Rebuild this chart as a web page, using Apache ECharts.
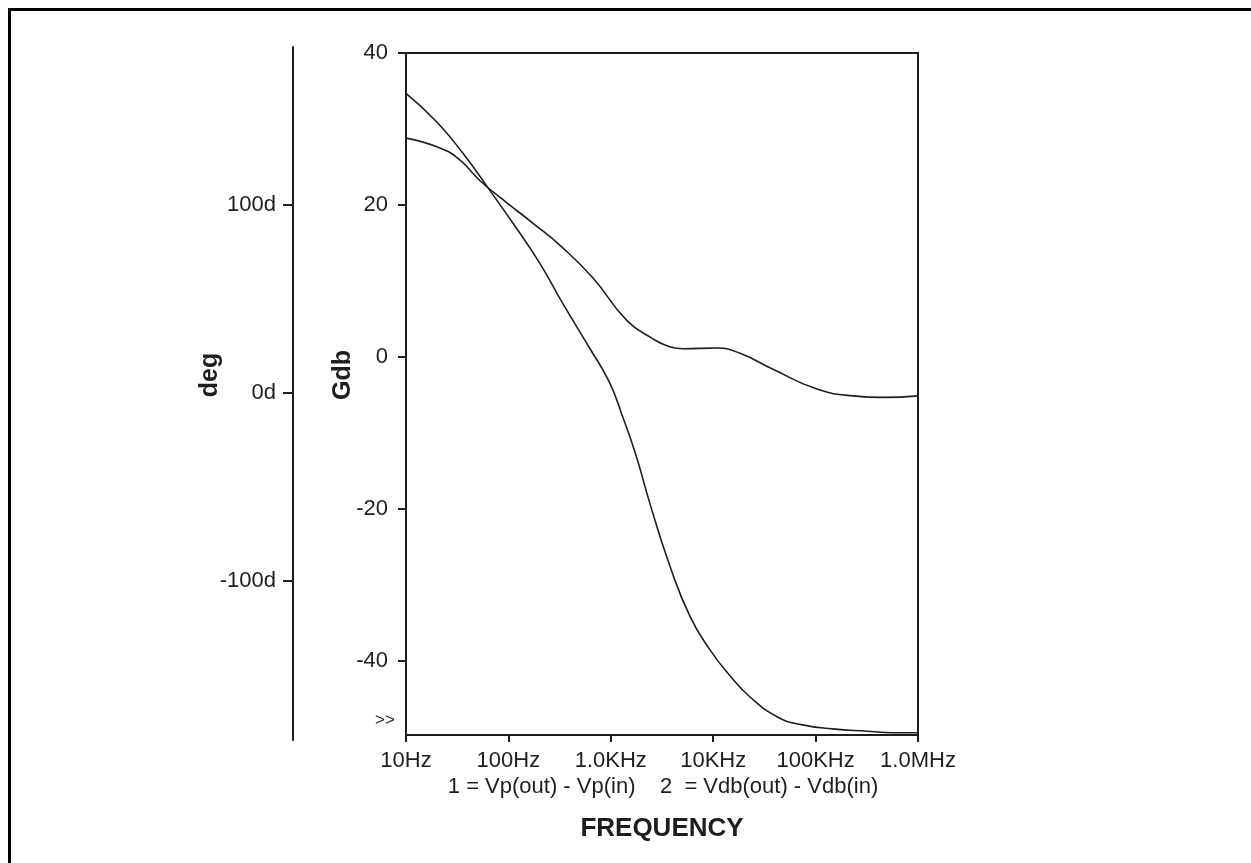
<!DOCTYPE html>
<html>
<head>
<meta charset="utf-8">
<script src="https://cdn.jsdelivr.net/npm/echarts@6/dist/echarts.min.js"></script>
<style>
  html, body { margin: 0; padding: 0; background: #fff; }
  #chart { width: 1251px; height: 863px; }
</style>
</head>
<body>
<div id="chart"></div>
<script>
// frequency tick labels (log axis, 10Hz .. 1MHz)
const freqTicks = [10, 100, 1000, 10000, 100000, 1000000]
const freqLabels = ['10Hz', '100Hz', '1.0KHz', '10KHz', '100KHz', '1.0MHz']
const gdbTicks = [-40, -20, 0, 20, 40]
const degTicks = [-100, 0, 100]

// curve 1 (flattens near -5 dB)
const curve1Freq = [10, 21.5, 33.7, 52.8, 96.9, 174, 319, 670, 1440, 2583, 3539, 5073, 10890, 18270, 38370, 103200, 231900, 455000, 1000000]
const curve1Val = [28.8, 27.5, 25.9, 23.2, 20.3, 17.6, 14.7, 10.4, 4.8, 2.4, 1.5, 1.1, 1.2, 0.5, -1.6, -4.2, -5.1, -5.3, -5.1]

// curve 2 (falls to about -49 dB)
const curve2Freq = [10, 20.1, 36.0, 66.1, 110.9, 203.5, 341.5, 626.6, 960, 1287, 1762, 2415, 3786, 5935, 9307, 14590, 22880, 41980, 70420, 147900, 317800, 570100, 1000000]
const curve2Val = [34.7, 30.9, 26.8, 21.9, 17.6, 12.3, 7.0, 1.1, -3.2, -7.6, -12.9, -19.3, -27.5, -34.1, -38.5, -41.9, -44.7, -47.3, -48.3, -48.9, -49.2, -49.4, -49.4]

const ink = '#1e1e1e'
const font = 'Liberation Sans, Arial, Helvetica, sans-serif'

const chart = echarts.init(document.getElementById('chart'))

const option = {
  backgroundColor: '#fff',
  animation: false,
  textStyle: { fontFamily: font, color: ink },
  grid: [
    { left: 406, right: 333, top: 53, bottom: 128, show: true, borderColor: ink, borderWidth: 2 },
    { left: 293, width: 1, top: 47, bottom: 123 }
  ],
  xAxis: [
    {
      gridIndex: 0,
      type: 'log',
      logBase: 10,
      min: 10,
      max: 1000000,
      axisLine: { onZero: false, lineStyle: { color: ink, width: 2 } },
      axisTick: { length: 7, lineStyle: { color: ink, width: 2 }, customValues: freqTicks },
      minorTick: { show: false },
      splitLine: { show: false },
      axisLabel: {
        customValues: freqTicks,
        color: ink,
        fontSize: 22,
        margin: 15,
        fontFamily: font,
        formatter: v => freqLabels[Math.round(Math.log10(v)) - 1]
      }
    },
    { gridIndex: 1, type: 'value', show: false }
  ],
  yAxis: [
    {
      gridIndex: 0,
      type: 'value',
      min: -49.7,
      max: 40,
      axisLine: { show: true, onZero: false, lineStyle: { color: ink, width: 2 } },
      axisTick: { show: true, length: 8, lineStyle: { color: ink, width: 2 }, customValues: gdbTicks },
      splitLine: { show: false },
      axisLabel: { customValues: gdbTicks, color: ink, fontSize: 22, margin: 18, fontFamily: font }
    },
    {
      gridIndex: 1,
      type: 'value',
      min: -184.6,
      max: 184,
      axisLine: { show: true, onZero: false, lineStyle: { color: ink, width: 2 } },
      axisTick: { show: true, length: 10, lineStyle: { color: ink, width: 2 }, customValues: degTicks },
      splitLine: { show: false },
      axisLabel: { customValues: degTicks, color: ink, fontSize: 22, margin: 17, fontFamily: font, formatter: v => v + 'd' }
    }
  ],
  graphic: [
    { type: 'rect', left: 7, top: 7, shape: { x: 0, y: 0, width: 1300, height: 900 }, style: { fill: null, stroke: '#000', lineWidth: 3 }, silent: true },
    { type: 'text', x: 210, y: 375, rotation: Math.PI / 2, style: { text: 'deg', font: 'bold 25px ' + font, fill: ink, align: 'center', verticalAlign: 'middle' } },
    { type: 'text', x: 343, y: 375, rotation: Math.PI / 2, style: { text: 'Gdb', font: 'bold 25px ' + font, fill: ink, align: 'center', verticalAlign: 'middle' } },
    { type: 'text', x: 385, y: 720, style: { text: '>>', font: '17px ' + font, fill: ink, align: 'center', verticalAlign: 'middle' } },
    { type: 'text', x: 663, y: 787, style: { text: '1 = Vp(out) - Vp(in)    2  = Vdb(out) - Vdb(in)', font: '22px ' + font, fill: ink, align: 'center', verticalAlign: 'middle' } },
    { type: 'text', x: 662, y: 829, style: { text: 'FREQUENCY', font: 'bold 26px ' + font, fill: ink, align: 'center', verticalAlign: 'middle' } }
  ],
  series: [
    {
      name: '1',
      type: 'line',
      xAxisIndex: 0,
      yAxisIndex: 0,
      data: curve1Freq.map((f, i) => [f, curve1Val[i]]),
      smooth: 0.5,
      showSymbol: false,
      lineStyle: { color: ink, width: 1.6 }
    },
    {
      name: '2',
      type: 'line',
      xAxisIndex: 0,
      yAxisIndex: 0,
      data: curve2Freq.map((f, i) => [f, curve2Val[i]]),
      smooth: 0.5,
      showSymbol: false,
      lineStyle: { color: ink, width: 1.6 }
    }
  ]
}

chart.setOption(option)
</script>
</body>
</html>
